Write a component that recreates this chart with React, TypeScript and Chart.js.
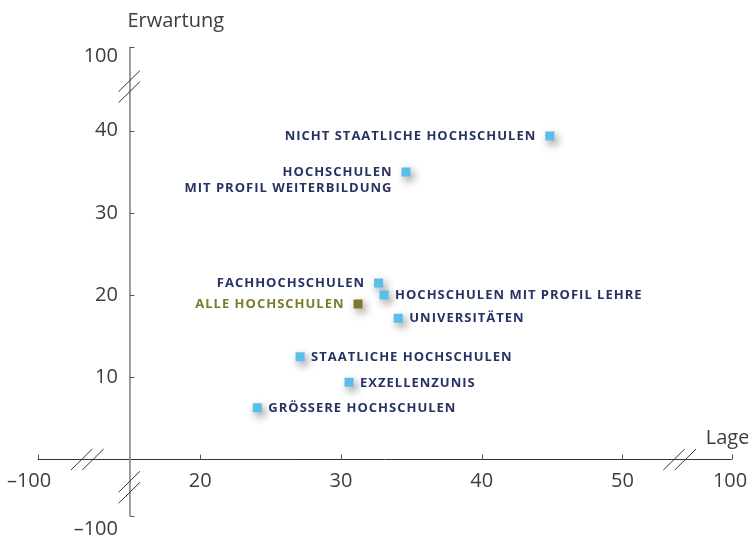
import React, { useEffect, useRef } from 'react';
import { Chart, registerables } from 'chart.js';

Chart.register(...registerables);

// ---- data ----
const categories: string[][] = [
  ['NICHT STAATLICHE HOCHSCHULEN'],
  ['HOCHSCHULEN', 'MIT PROFIL WEITERBILDUNG'],
  ['FACHHOCHSCHULEN'],
  ['HOCHSCHULEN MIT PROFIL LEHRE'],
  ['ALLE HOCHSCHULEN'],
  ['UNIVERSITÄTEN'],
  ['STAATLICHE HOCHSCHULEN'],
  ['EXZELLENZUNIS'],
  ['GRÖSSERE HOCHSCHULEN'],
];
const lageValues = [44.84, 34.62, 32.67, 33.06, 31.21, 34.07, 27.09, 30.57, 24.05];
const erwartungValues = [39.36, 34.98, 21.47, 20.01, 18.92, 17.18, 12.51, 9.39, 6.3];

// broken-axis tick labels (outer ticks stand for ±100 beyond the breaks)
const xTickValues = [7.83, 20, 30, 40, 50, 57.65];
const xTickLabels = ['–100', '20', '30', '40', '50', '100'];
const yTickValues = [-8.45, 10, 20, 30, 40, 49];
const yTickLabels = ['–100', '10', '20', '30', '40', '100'];

const xTitle = 'Lage';
const yTitle = 'Erwartung';
const highlight = 'ALLE HOCHSCHULEN';

// ---- axis geometry (in scale units) ----
const X_CROSS = 15;
const Y_CROSS = 0;
const X_ENDS = [8.44, 57.77];
const Y_ENDS = [-6.87, 50.2];
const X_BREAKS = [11.97, 54.07];
const Y_BREAKS = [-3.38, 45.36];
const rightLabelled = new Set([0, 1, 2, 4]);

const BLUE = '#5bbde9';
const OLIVE = '#7b782d';
const NAVY = '#283262';
const OLIVE_TEXT = '#7d7a2a';
const AXIS_TEXT = '#3d3d3d';

function slash(ctx: CanvasRenderingContext2D, cx: number, cy: number) {
  ctx.beginPath();
  ctx.moveTo(cx - 10.7, cy + 10.5);
  ctx.lineTo(cx + 10.7, cy - 10.5);
  ctx.stroke();
}

const axesPlugin = {
  id: 'brokenAxes',
  beforeDatasetsDraw(chart: any) {
    const { ctx, scales } = chart;
    const x = scales.x;
    const y = scales.y;
    const ax = x.getPixelForValue(X_CROSS);
    const ay = y.getPixelForValue(Y_CROSS);
    const x0 = x.getPixelForValue(X_ENDS[0]);
    const x1 = x.getPixelForValue(X_ENDS[1]);
    const y0 = y.getPixelForValue(Y_ENDS[0]);
    const y1 = y.getPixelForValue(Y_ENDS[1]);
    ctx.save();
    // x axis
    ctx.strokeStyle = '#333';
    ctx.lineWidth = 1;
    ctx.beginPath();
    ctx.moveTo(x0, ay);
    ctx.lineTo(x1, ay);
    ctx.stroke();
    const xt = [X_ENDS[0], 20, 30, 40, 50, X_ENDS[1]];
    ctx.strokeStyle = '#555';
    xt.forEach((v) => {
      const px = Math.round(x.getPixelForValue(v)) + 0.5;
      ctx.beginPath();
      ctx.moveTo(px, ay);
      ctx.lineTo(px, ay - 5);
      ctx.stroke();
    });
    // y axis
    ctx.strokeStyle = '#858585';
    ctx.lineWidth = 1.6;
    ctx.beginPath();
    ctx.moveTo(ax, y1);
    ctx.lineTo(ax, y0);
    ctx.stroke();
    ctx.lineWidth = 1;
    ctx.strokeStyle = '#555';
    const yt = [Y_ENDS[0], 10, 20, 30, 40, Y_ENDS[1]];
    yt.forEach((v) => {
      const py = Math.round(y.getPixelForValue(v)) + 0.5;
      ctx.beginPath();
      ctx.moveTo(ax, py);
      ctx.lineTo(ax + 4.5, py);
      ctx.stroke();
    });
    // axis breaks
    ctx.strokeStyle = '#333';
    ctx.lineWidth = 1;
    X_BREAKS.forEach((v) => {
      const cx = x.getPixelForValue(v);
      slash(ctx, cx - 5.65, ay);
      slash(ctx, cx + 5.65, ay);
    });
    Y_BREAKS.forEach((v) => {
      const cy = y.getPixelForValue(v);
      slash(ctx, ax - 0.7, cy - 5.5);
      slash(ctx, ax - 0.7, cy + 5.5);
    });
    // axis titles
    ctx.fillStyle = AXIS_TEXT;
    ctx.font = '20px "Open Sans"';
    ctx.textBaseline = 'alphabetic';
    ctx.textAlign = 'left';
    ctx.fillText(yTitle, ax - 2.5, y1 - 20.3);
    ctx.fillText(xTitle, x1 - 26, ay - 15.5);
    ctx.restore();
    // soft shadow behind the markers
    ctx.save();
    ctx.shadowColor = 'rgba(0,0,0,0.45)';
    ctx.shadowBlur = 8;
    ctx.shadowOffsetX = 3;
    ctx.shadowOffsetY = 4;
  },
  afterDatasetsDraw(chart: any) {
    const { ctx } = chart;
    ctx.restore();
    const meta = chart.getDatasetMeta(0);
    ctx.save();
    ctx.font = 'bold 13px "Open Sans"';
    (ctx as any).letterSpacing = '1px';
    ctx.textBaseline = 'middle';
    meta.data.forEach((pt: any, i: number) => {
      const lines = categories[i];
      const right = rightLabelled.has(i);
      ctx.fillStyle = lines[0] === highlight ? OLIVE_TEXT : NAVY;
      ctx.textAlign = right ? 'right' : 'left';
      const tx = right ? pt.x - 13.5 : pt.x + 11;
      lines.forEach((line, k) => {
        ctx.fillText(line, tx, pt.y + 0.5 + k * 15.6);
      });
    });
    ctx.restore();
  },
};

export default function App() {
  const ref = useRef<HTMLCanvasElement | null>(null);
  useEffect(() => {
    if (!ref.current) return;
    const zeroPad = (s: any) => {
      s.paddingLeft = 0;
      s.paddingRight = 0;
      s.paddingTop = 0;
      s.paddingBottom = 0;
    };
    const chart = new Chart(ref.current, {
      type: 'scatter',
      data: {
        datasets: [
          {
            label: 'Hochschulen',
            data: lageValues.map((v, i) => ({ x: v, y: erwartungValues[i] })),
            pointStyle: 'rect',
            pointRadius: 6.4,
            pointHoverRadius: 6.4,
            borderWidth: 0,
            backgroundColor: (c: any) =>
              categories[c.dataIndex] && categories[c.dataIndex][0] === highlight ? OLIVE : BLUE,
          },
        ],
      },
      options: {
        responsive: false,
        animation: false,
        events: [],
        layout: { padding: { left: 17.39, right: 6.4, top: 46, bottom: 9.6 } },
        plugins: { legend: { display: false }, tooltip: { enabled: false }, title: { display: false } },
        scales: {
          x: {
            type: 'linear',
            min: 7,
            max: 58.47,
            position: { y: Y_CROSS - 1.22 } as any,
            grid: { display: false, drawTicks: false },
            border: { display: false },
            ticks: {
              autoSkip: false,
              maxRotation: 0,
              padding: 0,
              color: AXIS_TEXT,
              font: { family: '"Open Sans"', size: 20 },
              callback: (_v: any, i: number) => xTickLabels[i],
            },
            afterBuildTicks: (s: any) => {
              s.ticks = xTickValues.map((v) => ({ value: v }));
            },
            afterFit: zeroPad,
          },
          y: {
            type: 'linear',
            min: -8.5,
            max: 50.3,
            position: { x: X_CROSS - 0.85 } as any,
            grid: { display: false, drawTicks: false },
            border: { display: false },
            ticks: {
              autoSkip: false,
              padding: 0,
              color: AXIS_TEXT,
              font: { family: '"Open Sans"', size: 20 },
              callback: (_v: any, i: number) => yTickLabels[i],
            },
            afterBuildTicks: (s: any) => {
              s.ticks = yTickValues.map((v) => ({ value: v }));
            },
            afterFit: zeroPad,
          },
        },
      },
      plugins: [axesPlugin],
    });
    return () => chart.destroy();
  }, []);
  return (
    <div style={{ position: 'absolute', left: 0, top: 0, width: 748, height: 539 }}>
      <canvas ref={ref} width={748} height={539} />
    </div>
  );
}
